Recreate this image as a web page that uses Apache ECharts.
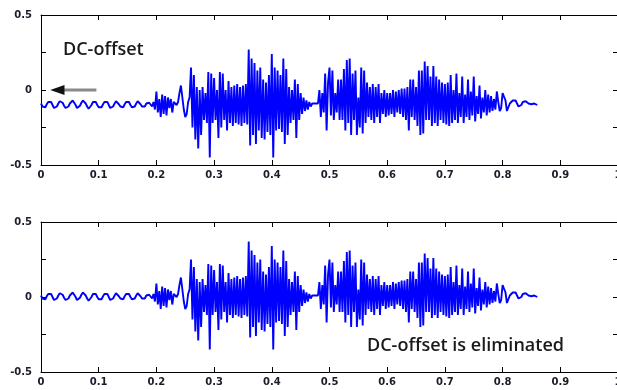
<!DOCTYPE html>
<html>
<head>
<meta charset="utf-8">
<script src="https://cdn.jsdelivr.net/npm/echarts@6/dist/echarts.min.js"></script>
<style>
  html, body { margin: 0; padding: 0; background: #fff; }
  #chart { width: 617px; height: 390px; }
</style>
</head>
<body>
<div id="chart"></div>
<script>
// Sample spacing of the recording (seconds)
const sampleStep = 0.0025;

// Recorded speech signal, including its DC offset
const rawSignal = [
  -0.09, -0.11, -0.12, -0.115, -0.095, -0.08, -0.075, -0.08,
  -0.1, -0.12, -0.12, -0.11, -0.09, -0.075, -0.07, -0.085,
  -0.105, -0.12, -0.125, -0.11, -0.09, -0.08, -0.07, -0.08,
  -0.1, -0.12, -0.12, -0.105, -0.085, -0.07, -0.075, -0.09,
  -0.11, -0.125, -0.12, -0.1, -0.08, -0.075, -0.08, -0.1,
  -0.115, -0.12, -0.115, -0.095, -0.08, -0.07, -0.08, -0.1,
  -0.12, -0.125, -0.11, -0.09, -0.075, -0.08, -0.095, -0.11,
  -0.12, -0.115, -0.095, -0.08, -0.07, -0.08, -0.1, -0.115,
  -0.12, -0.11, -0.09, -0.075, -0.08, -0.095, -0.11, -0.12,
  -0.11, -0.09, -0.08, -0.085, -0.095, -0.11, -0.08, -0.13,
  -0.01, -0.15, -0.06, -0.18, -0.03, -0.16, -0.04, -0.17,
  -0.05, -0.12, -0.06, -0.15, -0.08, -0.07, -0.1, -0.08,
  -0.02, 0.03, -0.05, -0.13, -0.18, -0.16, -0.08, -0.05,
  0.15, -0.25, 0.1, -0.33, 0.02, -0.39, 0.0, -0.3,
  0.02, -0.2, -0.02, -0.22, 0.12, -0.45, 0.11, -0.22,
  0.08, -0.2, 0.0, -0.32, 0.12, -0.25, 0.11, -0.2,
  0.0, -0.27, 0.06, -0.22, 0.02, -0.24, 0.03, -0.22,
  0.04, -0.23, 0.02, -0.24, 0.03, -0.22, 0.04, -0.23,
  0.27, -0.37, 0.21, -0.3, 0.18, -0.36, 0.13, -0.27,
  0.15, -0.32, 0.07, -0.33, 0.05, -0.28, 0.1, -0.3,
  0.24, -0.45, 0.15, -0.27, 0.13, -0.26, 0.1, -0.28,
  0.21, -0.36, 0.14, -0.3, 0.02, -0.22, 0.0, -0.2,
  0.07, -0.32, 0.04, -0.2, -0.02, -0.16, -0.05, -0.14,
  -0.07, -0.13, -0.08, -0.11, -0.09, -0.08, -0.09, -0.085,
  -0.09, 0.0, -0.18, -0.02, -0.15, 0.11, -0.27, 0.05,
  0.15, -0.17, 0.13, -0.2, -0.02, -0.15, 0.07, -0.2,
  0.07, -0.2, 0.14, -0.27, 0.2, -0.22, 0.21, -0.3,
  0.11, -0.2, 0.13, -0.3, -0.05, -0.25, 0.15, -0.29,
  0.13, -0.22, 0.05, -0.18, 0.02, -0.2, 0.04, -0.22,
  0.02, -0.18, 0.04, -0.22, -0.02, -0.16, 0.0, -0.18,
  -0.02, -0.17, -0.02, -0.16, 0.0, -0.18, -0.01, -0.15,
  0.0, -0.16, 0.01, -0.18, 0.01, -0.2, 0.02, -0.27,
  0.07, -0.18, 0.07, -0.2, 0.02, -0.24, 0.13, -0.3,
  0.13, -0.29, 0.19, -0.2, 0.16, -0.2, 0.09, -0.24,
  0.16, -0.22, 0.09, -0.24, 0.07, -0.2, 0.05, -0.22,
  0.04, -0.23, 0.05, -0.24, 0.1, -0.22, 0.0, -0.2,
  0.11, -0.22, -0.02, -0.18, 0.09, -0.22, -0.03, -0.18,
  0.07, -0.2, -0.01, -0.17, 0.09, -0.21, -0.04, -0.16,
  0.03, -0.19, -0.05, -0.15, 0.0, -0.17, -0.03, -0.15,
  -0.04, -0.14, -0.06, -0.13, -0.01, -0.08, -0.14, -0.12,
  -0.02, -0.01, -0.07, -0.14, -0.13, -0.09, -0.08, -0.07,
  -0.08, -0.07, -0.09, -0.11, -0.11, -0.1, -0.08, -0.07,
  -0.075, -0.07, -0.09, -0.1, -0.095, -0.1, -0.09, -0.095,
  -0.1
];

// Same signal after the DC offset has been removed
const cleanSignal = [
  0.01, -0.01, -0.02, -0.015, 0.005, 0.02, 0.025, 0.02,
  0.0, -0.02, -0.02, -0.01, 0.01, 0.025, 0.03, 0.015,
  -0.005, -0.02, -0.025, -0.01, 0.01, 0.02, 0.03, 0.02,
  0.0, -0.02, -0.02, -0.005, 0.015, 0.03, 0.025, 0.01,
  -0.01, -0.025, -0.02, 0.0, 0.02, 0.025, 0.02, 0.0,
  -0.015, -0.02, -0.015, 0.005, 0.02, 0.03, 0.02, 0.0,
  -0.02, -0.025, -0.01, 0.01, 0.025, 0.02, 0.005, -0.01,
  -0.02, -0.015, 0.005, 0.02, 0.03, 0.02, 0.0, -0.015,
  -0.02, -0.01, 0.01, 0.025, 0.02, 0.005, -0.01, -0.02,
  -0.01, 0.01, 0.02, 0.015, 0.005, -0.01, 0.02, -0.03,
  0.09, -0.05, 0.04, -0.08, 0.07, -0.06, 0.06, -0.07,
  0.05, -0.02, 0.04, -0.05, 0.02, 0.03, 0.0, 0.02,
  0.08, 0.13, 0.05, -0.03, -0.08, -0.06, 0.02, 0.05,
  0.25, -0.15, 0.2, -0.23, 0.12, -0.29, 0.1, -0.2,
  0.12, -0.1, 0.08, -0.12, 0.22, -0.35, 0.21, -0.12,
  0.18, -0.1, 0.1, -0.22, 0.22, -0.15, 0.21, -0.1,
  0.1, -0.17, 0.16, -0.12, 0.12, -0.14, 0.13, -0.12,
  0.14, -0.13, 0.12, -0.14, 0.13, -0.12, 0.14, -0.13,
  0.37, -0.27, 0.31, -0.2, 0.28, -0.26, 0.23, -0.17,
  0.25, -0.22, 0.17, -0.23, 0.15, -0.18, 0.2, -0.2,
  0.34, -0.35, 0.25, -0.17, 0.23, -0.16, 0.2, -0.18,
  0.31, -0.26, 0.24, -0.2, 0.12, -0.12, 0.1, -0.1,
  0.17, -0.22, 0.14, -0.1, 0.08, -0.06, 0.05, -0.04,
  0.03, -0.03, 0.02, -0.01, 0.01, 0.02, 0.01, 0.015,
  0.01, 0.1, -0.08, 0.08, -0.05, 0.21, -0.17, 0.15,
  0.25, -0.07, 0.23, -0.1, 0.08, -0.05, 0.17, -0.1,
  0.17, -0.1, 0.24, -0.17, 0.3, -0.12, 0.31, -0.2,
  0.21, -0.1, 0.23, -0.2, 0.05, -0.15, 0.25, -0.19,
  0.23, -0.12, 0.15, -0.08, 0.12, -0.1, 0.14, -0.12,
  0.12, -0.08, 0.14, -0.12, 0.08, -0.06, 0.1, -0.08,
  0.08, -0.07, 0.08, -0.06, 0.1, -0.08, 0.09, -0.05,
  0.1, -0.06, 0.11, -0.08, 0.11, -0.1, 0.12, -0.17,
  0.17, -0.08, 0.17, -0.1, 0.12, -0.14, 0.23, -0.2,
  0.23, -0.19, 0.29, -0.1, 0.26, -0.1, 0.19, -0.14,
  0.26, -0.12, 0.19, -0.14, 0.17, -0.1, 0.15, -0.12,
  0.14, -0.13, 0.15, -0.14, 0.2, -0.12, 0.1, -0.1,
  0.21, -0.12, 0.08, -0.08, 0.19, -0.12, 0.07, -0.08,
  0.17, -0.1, 0.09, -0.07, 0.19, -0.11, 0.06, -0.06,
  0.13, -0.09, 0.05, -0.05, 0.1, -0.07, 0.07, -0.05,
  0.06, -0.04, 0.04, -0.03, 0.09, 0.02, -0.04, -0.02,
  0.08, 0.09, 0.03, -0.04, -0.03, 0.01, 0.02, 0.03,
  0.02, 0.03, 0.01, -0.01, -0.01, 0.0, 0.02, 0.03,
  0.025, 0.03, 0.01, 0.0, 0.005, 0.0, 0.01, 0.005,
  0.0
];

// Axis ranges and labelled ticks
const timeRange = [0, 1];
const timeTickStep = 0.1;
const ampRange = [-0.5, 0.5];
const ampTickStep = 0.25;
const ampLabels = ['-0.5', '0', '0.5'];

// Annotation texts
const topNote = 'DC-offset';
const bottomNote = 'DC-offset is eliminated';

const pairs = (values) => values.map((v, i) => [i * sampleStep, v]);

const labelFont = {
  fontFamily: 'DejaVu Sans',
  fontSize: 10,
  fontWeight: 'bold',
  color: '#1b1b2a'
};
const axisLineStyle = { color: '#000', width: 1 };

function timeAxes(gridIndex) {
  const base = {
    gridIndex,
    type: 'value',
    min: timeRange[0],
    max: timeRange[1],
    interval: timeTickStep,
    splitLine: { show: false },
    axisLine: { show: true, onZero: false, lineStyle: axisLineStyle },
    axisTick: { show: true, inside: true, length: 5, lineStyle: axisLineStyle }
  };
  return [
    Object.assign({}, base, {
      position: 'bottom',
      axisLabel: Object.assign({}, labelFont, {
        margin: 5,
        formatter: (v) => String(Number(v.toFixed(1)))
      })
    }),
    Object.assign({}, base, { position: 'top', axisLabel: { show: false } })
  ];
}

function ampAxes(gridIndex) {
  const base = {
    gridIndex,
    type: 'value',
    min: ampRange[0],
    max: ampRange[1],
    interval: ampTickStep,
    splitLine: { show: false },
    axisLine: { show: true, onZero: false, lineStyle: axisLineStyle },
    axisTick: { show: true, inside: true, length: 5, lineStyle: axisLineStyle }
  };
  return [
    Object.assign({}, base, {
      position: 'left',
      axisLabel: Object.assign({}, labelFont, {
        margin: 9,
        formatter: (v) => {
          const s = String(Number(v.toFixed(2)));
          return ampLabels.indexOf(s) >= 0 ? s : '';
        }
      })
    }),
    Object.assign({}, base, { position: 'right', axisLabel: { show: false } })
  ];
}

const chart = echarts.init(document.getElementById('chart'), null, { renderer: 'canvas' });

const waveStyle = { color: '#0000ff', width: 1.9 };

chart.setOption({
  animation: false,
  backgroundColor: '#ffffff',
  grid: [
    { left: 41, top: 15, height: 150, right: -1, containLabel: false, outerBoundsMode: 'none' },
    { left: 41, top: 222, height: 150, right: -1, containLabel: false, outerBoundsMode: 'none' }
  ],
  xAxis: timeAxes(0).concat(timeAxes(1)),
  yAxis: ampAxes(0).concat(ampAxes(1)),
  series: [
    {
      type: 'line', xAxisIndex: 0, yAxisIndex: 0,
      data: pairs(rawSignal), showSymbol: false, symbol: 'none',
      sampling: null, lineStyle: waveStyle, itemStyle: { color: '#0000ff' }
    },
    {
      type: 'line', xAxisIndex: 2, yAxisIndex: 2,
      data: pairs(cleanSignal), showSymbol: false, symbol: 'none',
      sampling: null, lineStyle: waveStyle, itemStyle: { color: '#0000ff' }
    }
  ]
});

// Arrow pointing at the zero level, and the two annotation texts
const arrowTail = chart.convertToPixel({ gridIndex: 0 }, [0.096, 0]);
const arrowNeck = chart.convertToPixel({ gridIndex: 0 }, [0.039, 0]);
const arrowTip = chart.convertToPixel({ gridIndex: 0 }, [0.016, 0]);

chart.setOption({
  graphic: [
    {
      type: 'line',
      shape: { x1: arrowTail[0], y1: arrowTail[1], x2: arrowNeck[0], y2: arrowNeck[1] },
      style: { stroke: '#8a8a8a', lineWidth: 3 }
    },
    {
      type: 'polygon',
      shape: { points: [[arrowTip[0], arrowTip[1]], [arrowNeck[0] + 1, arrowTip[1] - 5], [arrowNeck[0] + 1, arrowTip[1] + 5]] },
      style: { fill: '#111' }
    },
    {
      type: 'text', left: 63, top: 41,
      style: { text: topNote, font: '600 18px "Open Sans"', fill: '#1a1a1a' }
    },
    {
      type: 'text', left: 367, top: 337,
      style: { text: bottomNote, font: '600 18px "Open Sans"', fill: '#1a1a1a' }
    }
  ]
});
</script>
</body>
</html>
